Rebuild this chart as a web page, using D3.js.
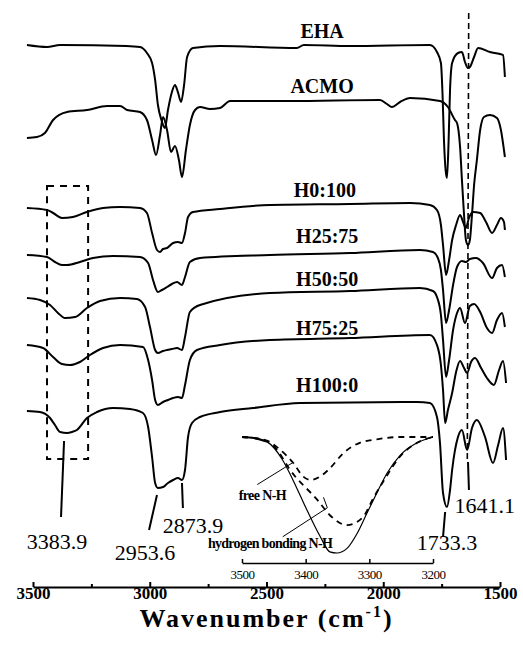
<!DOCTYPE html>
<html>
<head>
<meta charset="utf-8">
<script src="https://cdnjs.cloudflare.com/ajax/libs/d3/7.8.5/d3.min.js"></script>
<style>
  body { margin: 0; background: #fff; }
  svg { display: block; }
  text { font-family: "Liberation Serif", "Times New Roman", serif; fill: #000; }
</style>
</head>
<body>
<div id="chart"></div>
<script>
// FTIR spectra, [wavenumber (cm-1), transmittance (a.u., offset per trace)]
var ehaData = [[3526,109],[3440,108.6],[3384,109],[3100,108.8],[3042,108.6],[3012,107.4],[2990,105.4],[2977,102],[2965,97],[2950,94],[2935,92.4],[2922,96],[2905,99.6],[2892,101],[2879,99.5],[2866,97.6],[2853,101],[2840,106.6],[2815,108.4],[2699,108.8],[2370,108.4],[2340,109],[2142,108.8],[1800,109],[1770,107.6],[1753,105.4],[1746,99],[1740,90],[1733,84],[1727,82.4],[1720,90],[1714,100],[1705,105.4],[1680,107.4],[1663,107.6],[1650,105.6],[1637,104.4],[1629,104.6],[1611,106.6],[1594,108.4],[1543,107.6],[1500,107.2],[1487,107],[1479,102.6]];

var acmoData = [[3526,90.4],[3483,90.6],[3449,91.4],[3414,94],[3354,95.6],[3269,96],[3183,96.8],[3127,96.8],[3097,96],[3042,95.6],[3012,94],[2990,90],[2973,87],[2956,91],[2943,94.6],[2926,92],[2909,87.6],[2892,88.8],[2875,86],[2862,82.6],[2845,88],[2828,93],[2806,96],[2785,96.6],[2742,96.2],[2699,96.4],[2656,97.8],[2399,97.8],[2014,98],[1984,97.2],[1963,96.6],[1928,97.6],[1885,98.4],[1757,97.8],[1723,96.6],[1693,94],[1684,93.4],[1671,88.6],[1663,82],[1654,75],[1646,70],[1637,69],[1629,70],[1620,75],[1611,81],[1599,86],[1585,92],[1569,94.6],[1543,95],[1513,94.4],[1496,92],[1483,88],[1479,86.6]];

var h0Data = [[3526,76.4],[3440,76],[3414,75.4],[3376,74.4],[3329,74.6],[3269,75.6],[3200,76.4],[3127,76.6],[3042,76.4],[3012,75.4],[2990,71.4],[2969,68],[2956,67.6],[2943,68.2],[2926,68.4],[2900,69.4],[2879,69.6],[2862,69.4],[2849,71.4],[2836,74.6],[2815,75.6],[2699,76.2],[2485,77],[2142,77.2],[1885,77.4],[1800,77],[1770,76],[1753,73],[1744,69],[1731,63],[1718,66],[1705,70],[1688,73],[1671,75],[1658,73.6],[1646,72.4],[1633,74.4],[1616,75.6],[1585,75.4],[1560,73.6],[1534,71.4],[1513,73],[1496,74.4],[1483,73.6],[1479,72]];

var h25Data = [[3526,67],[3440,66.6],[3406,65.6],[3376,65],[3354,65],[3299,65.6],[3243,66.4],[3157,66.8],[3042,66.6],[3007,65.4],[2986,62],[2965,59.6],[2948,60],[2926,60.6],[2905,61.2],[2883,61.6],[2862,61],[2849,62.6],[2828,65.6],[2785,66.4],[2485,67],[2142,67.4],[1843,68],[1787,67.6],[1766,66.4],[1753,64],[1744,60],[1731,53.4],[1718,56],[1701,61],[1684,64.6],[1663,65.8],[1646,65.6],[1629,66.2],[1603,66.4],[1573,65.4],[1534,62.4],[1513,64.4],[1491,65],[1479,62.6]];

var h50Data = [[3526,58.4],[3470,58],[3427,57],[3393,55.4],[3363,54.4],[3320,54.6],[3269,56.4],[3213,57.8],[3127,58.4],[3055,58.2],[3020,56.6],[2999,52.6],[2977,48],[2965,47.4],[2943,47.8],[2926,48],[2905,48.2],[2883,48.4],[2862,48],[2849,50.6],[2828,55.6],[2785,57],[2485,59.4],[2142,59.8],[1843,60.4],[1787,59.8],[1770,58.6],[1753,55],[1744,50],[1731,42.6],[1718,46],[1701,52],[1684,55.4],[1671,56.4],[1650,53.4],[1629,56.8],[1611,57.2],[1585,55.6],[1556,52.4],[1534,51.4],[1513,54],[1491,55.4],[1479,52.6]];

var h75Data = [[3526,49],[3457,48.4],[3414,46.6],[3376,45.2],[3342,45],[3299,45.6],[3256,47],[3200,48.4],[3127,49],[3029,48.6],[3007,46],[2990,42],[2977,38],[2965,37],[2943,37.6],[2922,38],[2900,38.4],[2879,38.6],[2862,38.4],[2849,41],[2828,46],[2798,48],[2699,49],[2485,50],[2142,50.4],[1800,51],[1770,49],[1753,45],[1744,40],[1735,33.4],[1723,36],[1705,39.4],[1688,43.6],[1671,45.8],[1654,44.4],[1641,43.4],[1624,45.6],[1607,46.4],[1581,44.4],[1556,42.4],[1526,41],[1504,44],[1487,45.8],[1474,41.4]];

var h100Data = [[3526,35.8],[3470,35.6],[3427,34.4],[3406,33],[3384,31.6],[3354,31.4],[3333,31.6],[3312,32],[3269,34.4],[3226,35.6],[3157,36.4],[3085,36.2],[3029,35.4],[3007,32.6],[2990,26.6],[2977,21.4],[2965,20.4],[2943,20.6],[2922,21.4],[2900,22],[2879,22.4],[2862,22],[2849,24],[2836,30.6],[2819,33.4],[2785,34.6],[2699,35.6],[2558,36.4],[2356,37.4],[1855,37.6],[1800,37.4],[1770,34.6],[1757,29.4],[1744,19.4],[1727,16.6],[1714,20],[1705,24],[1680,30.6],[1663,32],[1641,28],[1620,32.4],[1599,34],[1564,30.6],[1530,25.4],[1508,29],[1487,32.4],[1474,26]];

var spectra = [ehaData, acmoData, h0Data, h25Data, h50Data, h75Data, h100Data];
var spectrumNames = ["EHA", "ACMO", "H0:100", "H25:75", "H50:50", "H75:25", "H100:0"];
// label anchor: [wavenumber, level]
var spectrumLabelPos = [[2262,110.4],[2262,99.4],[2250,78.6],[2240,69.4],[2240,60.8],[2240,51],[2240,39.6]];

// inset: N-H region, [wavenumber, absorbance (norm.)]
var insetTotal = [[3500,0],[3480,0.01],[3461,0.04],[3436,0.2],[3420,0.37],[3398,0.63],[3377,0.86],[3362,0.99],[3351,1.0],[3335,0.96],[3319,0.83],[3304,0.66],[3288,0.48],[3272,0.31],[3252,0.16],[3225,0.05],[3200,0]];
var insetFree = [[3500,0],[3480,0.01],[3461,0.03],[3440,0.11],[3420,0.22],[3404,0.34],[3393,0.37],[3377,0.34],[3362,0.27],[3341,0.14],[3315,0.05],[3288,0.02],[3252,0],[3200,0]];
var insetBonded = [[3500,0],[3480,0.01],[3456,0.05],[3445,0.11],[3425,0.28],[3382,0.54],[3359,0.69],[3335,0.76],[3310,0.69],[3294,0.53],[3272,0.33],[3252,0.17],[3225,0.05],[3200,0]];

var mainTicks = [3500, 3000, 2500, 2000, 1500];
var minorTicks = [3250, 2750, 2250, 1750];
var insetTicks = [3500, 3400, 3300, 3200];

// peak labels: text, line from [wn, level] to [wn, level], text centre [wn, level]
var peakLabels = [
  {text: "3383.9", from: [3367, 29.8], to: [3380, 14.6], at: [3397, 8.2]},
  {text: "2953.6", from: [2969, 19], to: [3003, 12], at: [3020, 6]},
  {text: "2873.9", from: [2862, 21.4], to: [2858, 16.4], at: [2815, 11.4]},
  {text: "1733.3", from: [1735, 15.6], to: [1744, 10.6], at: [1727, 8]},
  {text: "1641.1", from: [1637, 25.6], to: [1633, 20], at: [1565, 15.4]}
];

var W = 523, H = 655;
var svg = d3.select("#chart").append("svg")
    .attr("width", W)
    .attr("height", H);

var x = d3.scaleLinear().domain([3500, 1500]).range([33, 500]);
var y = d3.scaleLinear().domain([0, 112]).range([590, 30]);

var line = d3.line()
    .x(function (d) { return x(d[0]); })
    .y(function (d) { return y(d[1]); })
    .curve(d3.curveMonotoneX);

// dashed reference line at 1641
svg.append("line")
    .attr("x1", x(1634)).attr("x2", x(1640))
    .attr("y1", y(115.4)).attr("y2", y(26))
    .attr("stroke", "#000")
    .attr("stroke-width", 1.6)
    .attr("stroke-dasharray", "6,4");

// dashed box round the N-H band
svg.append("rect")
    .attr("x", x(3440))
    .attr("y", y(80.8))
    .attr("width", x(3264) - x(3440))
    .attr("height", y(26.2) - y(80.8))
    .attr("fill", "none")
    .attr("stroke", "#000")
    .attr("stroke-width", 2)
    .attr("stroke-dasharray", "7,6");

svg.selectAll(".spec")
    .data(spectra)
    .enter().append("path")
    .attr("class", "spec")
    .attr("d", line)
    .attr("fill", "none")
    .attr("stroke", "#000")
    .attr("stroke-width", 2)
    .attr("stroke-linejoin", "round");

svg.selectAll(".spec-label")
    .data(spectrumNames)
    .enter().append("text")
    .attr("class", "spec-label")
    .attr("x", function (d, i) { return x(spectrumLabelPos[i][0]); })
    .attr("y", function (d, i) { return y(spectrumLabelPos[i][1]); })
    .attr("text-anchor", "middle")
    .attr("font-size", 20)
    .attr("font-weight", "bold")
    .text(function (d) { return d; });

// peak markers
var peaks = svg.selectAll(".peak")
    .data(peakLabels)
    .enter().append("g")
    .attr("class", "peak");

peaks.append("line")
    .attr("x1", function (d) { return x(d.from[0]); })
    .attr("y1", function (d) { return y(d.from[1]); })
    .attr("x2", function (d) { return x(d.to[0]); })
    .attr("y2", function (d) { return y(d.to[1]); })
    .attr("stroke", "#000")
    .attr("stroke-width", 2);

peaks.append("text")
    .attr("x", function (d) { return x(d.at[0]); })
    .attr("y", function (d) { return y(d.at[1]); })
    .attr("text-anchor", "middle")
    .attr("font-size", 22)
    .text(function (d) { return d.text; });

// main axis
var axis = svg.append("g")
    .attr("transform", "translate(0,587)")
    .call(d3.axisBottom(x)
        .tickValues(mainTicks)
        .tickSizeInner(-5)
        .tickSizeOuter(0)
        .tickPadding(0)
        .tickFormat(d3.format("d")));
axis.select(".domain").attr("stroke-width", 2);
axis.selectAll(".tick line").attr("stroke-width", 2);
axis.selectAll(".tick text")
    .attr("font-family", "'Liberation Serif','Times New Roman',serif")
    .attr("font-size", 17)
    .attr("font-weight", "bold")
    .attr("fill", "#000");

svg.append("g")
    .attr("transform", "translate(0,587)")
    .call(d3.axisBottom(x).tickValues(minorTicks).tickSizeInner(-3).tickSizeOuter(0).tickFormat(""))
    .call(function (g) { g.select(".domain").remove(); })
    .selectAll(".tick line").attr("stroke-width", 2);

var title = svg.append("text")
    .attr("x", x(2500))
    .attr("y", 627)
    .attr("text-anchor", "middle")
    .attr("font-size", 26)
    .attr("letter-spacing", 2)
    .attr("font-weight", "bold");
title.append("tspan").text("Wavenumber (cm");
title.append("tspan").attr("font-size", 16).attr("dy", -10).text("-1");
title.append("tspan").attr("dy", 10).text(")");

// inset
var xi = d3.scaleLinear().domain([3500, 3200]).range([242, 433]);
var yi = d3.scaleLinear().domain([0, 1]).range([437, 553]);

var insetLine = d3.line()
    .x(function (d) { return xi(d[0]); })
    .y(function (d) { return yi(d[1]); })
    .curve(d3.curveMonotoneX);

var inset = svg.append("g").attr("class", "inset");

inset.append("path")
    .attr("d", insetLine(insetFree))
    .attr("fill", "none")
    .attr("stroke", "#000")
    .attr("stroke-width", 1.8)
    .attr("stroke-dasharray", "6,5");

inset.append("path")
    .attr("d", insetLine(insetBonded))
    .attr("fill", "none")
    .attr("stroke", "#000")
    .attr("stroke-width", 1.8)
    .attr("stroke-dasharray", "6,5");

inset.append("path")
    .attr("d", insetLine(insetTotal))
    .attr("fill", "none")
    .attr("stroke", "#000")
    .attr("stroke-width", 1.2);

// thick start of the inset trace
inset.append("path")
    .attr("d", insetLine(insetTotal.slice(0, 3)))
    .attr("fill", "none")
    .attr("stroke", "#000")
    .attr("stroke-width", 2);

var insetAxis = inset.append("g")
    .attr("transform", "translate(0,563)")
    .call(d3.axisBottom(xi)
        .tickValues(insetTicks)
        .tickSizeInner(-4)
        .tickSizeOuter(0)
        .tickPadding(7)
        .tickFormat(d3.format("d")));
insetAxis.select(".domain").attr("stroke-width", 1.5);
insetAxis.selectAll(".tick line").attr("stroke-width", 1.5);
insetAxis.selectAll(".tick text")
    .attr("font-family", "'Liberation Serif','Times New Roman',serif")
    .attr("font-size", 13)
    .attr("letter-spacing", "-0.5")
    .attr("fill", "#000");

// inset call-outs
inset.append("line")
    .attr("x1", xi(3476)).attr("y1", yi(0.41))
    .attr("x2", xi(3420)).attr("y2", yi(0.22))
    .attr("stroke", "#000").attr("stroke-width", 1);
inset.append("text")
    .attr("x", xi(3468)).attr("y", yi(0.54))
    .attr("text-anchor", "middle")
    .attr("font-size", 14)
    .attr("font-weight", "bold")
    .attr("letter-spacing", "-0.6")
    .text("free N-H");

inset.append("line")
    .attr("x1", xi(3436)).attr("y1", yi(0.86))
    .attr("x2", xi(3366)).attr("y2", yi(0.61))
    .attr("stroke", "#000").attr("stroke-width", 1);
inset.append("line")
    .attr("x1", xi(3366)).attr("y1", yi(0.61))
    .attr("x2", xi(3372)).attr("y2", yi(0.52))
    .attr("stroke", "#000").attr("stroke-width", 1);
inset.append("text")
    .attr("x", xi(3456)).attr("y", yi(0.955))
    .attr("text-anchor", "middle")
    .attr("font-size", 14)
    .attr("font-weight", "bold")
    .attr("letter-spacing", "-0.7")
    .text("hydrogen bonding N-H");
</script>
</body>
</html>
